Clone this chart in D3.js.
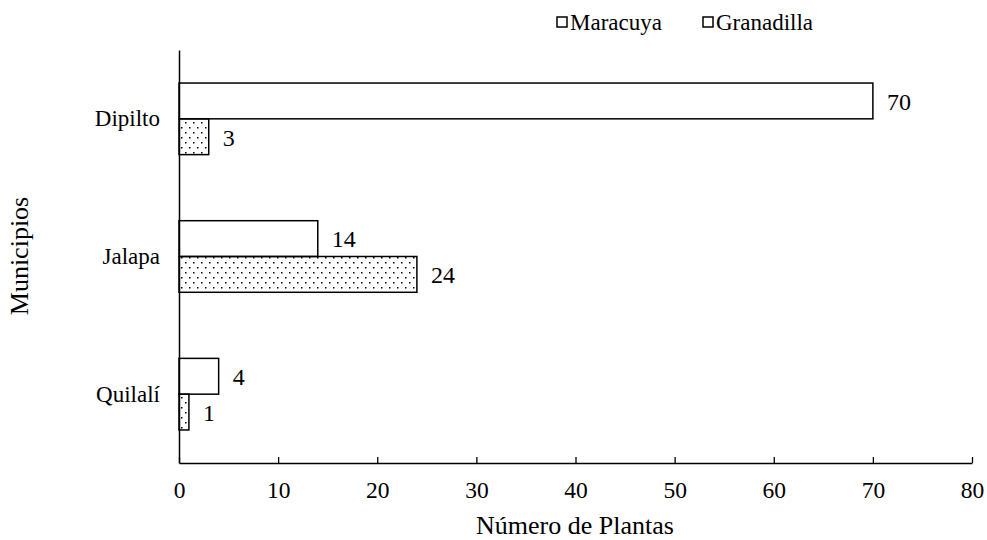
<!DOCTYPE html>
<html><head><meta charset="utf-8">
<script src="https://cdn.jsdelivr.net/npm/d3@7"></script>
<style>
body{margin:0;background:#fff}
#c text{font-family:"Liberation Serif","Times New Roman",Tinos,serif}
</style>
</head><body>
<svg id="c" width="987" height="540"></svg>
<script>
const categories = ["Dipilto", "Jalapa", "Quilalí"];
const seriesNames = ["Maracuya", "Granadilla"];
const maracuya = [70, 14, 4];
const granadilla = [3, 24, 1];
const xTicks = [0, 10, 20, 30, 40, 50, 60, 70, 80];

const svg = d3.select("#c");
const m = {left: 179, right: 972, top: 50, bottom: 463};
const x = d3.scaleLinear().domain([0, 80]).range([m.left, m.right]);
const y = d3.scaleBand().domain(categories).range([m.top, m.bottom]).paddingInner(0.48).paddingOuter(0.24);
const sub = d3.scaleBand().domain(seriesNames).range([0, y.bandwidth()]);

const defs = svg.append("defs");
const pat = defs.append("pattern").attr("id", "dots").attr("patternUnits", "userSpaceOnUse")
  .attr("width", 8).attr("height", 10);
pat.append("rect").attr("x", 1).attr("y", 2).attr("width", 1.5).attr("height", 1.5).attr("fill", "#000");
pat.append("rect").attr("x", 5).attr("y", 7).attr("width", 1.5).attr("height", 1.5).attr("fill", "#000");

const data = [];
categories.forEach((c, i) => {
  data.push({cat: c, s: "Maracuya", v: maracuya[i]});
  data.push({cat: c, s: "Granadilla", v: granadilla[i]});
});

svg.append("g").selectAll("rect").data(data).join("rect")
  .attr("x", x(0))
  .attr("y", d => y(d.cat) + sub(d.s))
  .attr("width", d => x(d.v) - x(0))
  .attr("height", sub.bandwidth())
  .attr("fill", d => d.s === "Maracuya" ? "#fff" : "url(#dots)")
  .attr("stroke", "#000").attr("stroke-width", 1.5);

svg.append("g").selectAll("text").data(data).join("text")
  .attr("x", d => x(d.v) + 14)
  .attr("y", d => y(d.cat) + sub(d.s) + sub.bandwidth() / 2)
  .attr("dy", "0.37em").style("font-size", "24px").text(d => d.v);

// axes
const xa = svg.append("g").attr("transform", `translate(0,${m.bottom})`)
  .call(d3.axisBottom(x).tickValues(xTicks).tickSize(-6).tickPadding(18).tickSizeOuter(0));
xa.select(".domain").attr("stroke-width", 1.5);
xa.selectAll(".tick line").attr("stroke-width", 1.3);
xa.selectAll("text").style("font-size", "23.5px").attr("fill", "#000");

const ya = svg.append("g").attr("transform", `translate(${m.left},0)`)
  .call(d3.axisLeft(y).tickSize(0).tickPadding(19));
ya.select(".domain").attr("stroke-width", 1.5);
ya.selectAll("text").style("font-size", "23px").attr("fill", "#000");

svg.append("text").attr("x", 575).attr("y", 534).attr("text-anchor", "middle")
  .style("font-size", "26px").text("Número de Plantas");
svg.append("text").attr("transform", "translate(28,256) rotate(-90)").attr("text-anchor", "middle")
  .style("font-size", "26px").text("Municipios");

// legend
const lg = svg.append("g");
const lx = [557, 703];
seriesNames.forEach((s, i) => {
  lg.append("rect").attr("x", lx[i]).attr("y", 17).attr("width", 10).attr("height", 10)
    .attr("fill", "#fff").attr("stroke", "#000").attr("stroke-width", 1.5);
  lg.append("text").attr("x", lx[i] + 13).attr("y", 30).style("font-size", "23px").text(s);
});
</script>
</body></html>
